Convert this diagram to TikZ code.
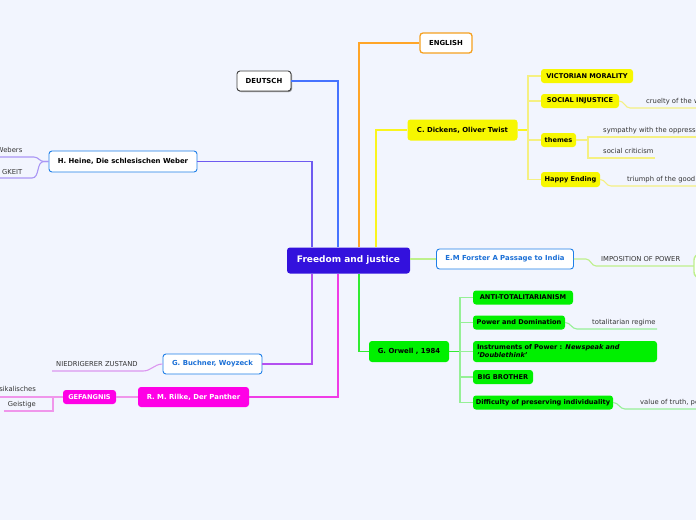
\documentclass[tikz,border=0pt]{standalone}
\usepackage{fontspec}
\setmainfont{DejaVu Sans}
\usetikzlibrary{shadows,calc}
\definecolor{bg}{RGB}{242,245,254}
\definecolor{cmain}{RGB}{51,17,221}
\definecolor{cyel}{RGB}{247,247,0}
\definecolor{cgreen}{RGB}{0,240,0}
\definecolor{cmag}{RGB}{255,0,230}
\definecolor{cblueb}{RGB}{30,127,232}
\definecolor{cbluet}{RGB}{26,111,214}
\definecolor{corange}{RGB}{245,160,32}
\definecolor{leaftext}{RGB}{51,51,51}
\definecolor{lheine}{RGB}{110,90,240}
\definecolor{lheinel}{RGB}{170,150,245}
\definecolor{ldeutsch}{RGB}{70,115,255}
\definecolor{lenglish}{RGB}{255,165,40}
\definecolor{ldickens}{RGB}{250,245,30}
\definecolor{ldickensl}{RGB}{245,240,130}
\definecolor{lforster}{RGB}{190,240,140}
\definecolor{lorwell}{RGB}{50,235,50}
\definecolor{lorwelll}{RGB}{150,240,150}
\definecolor{lbuchner}{RGB}{180,80,240}
\definecolor{lbuchnerl}{RGB}{220,150,240}
\definecolor{lrilke}{RGB}{240,60,230}
\definecolor{lrilkel}{RGB}{240,150,235}
\begin{document}
\begin{tikzpicture}[x=1pt,y=-1pt,
  base/.style={rectangle,rounded corners=3pt,inner sep=0pt,align=center,font=\fontsize{6.9}{8.4}\selectfont\bfseries},
  subfont/.style={font=\fontsize{6.6}{8}\selectfont\bfseries},
  mainbox/.style={base,fill=cmain,text=white,font=\fontsize{9}{11}\selectfont\bfseries},
  whitebox/.style={base,fill=white,draw=cblueb,line width=0.9pt,text=black},
  bluebox/.style={base,fill=white,draw=cblueb,line width=0.9pt,text=cbluet},
  yelbox/.style={base,fill=cyel,text=black},
  grnbox/.style={base,fill=cgreen,text=black},
  magbox/.style={base,fill=cmag,text=white},
  leaf/.style={inner sep=0pt,anchor=base west,text=leaftext,font=\fontsize{6.8}{8}\selectfont},
  leafr/.style={leaf,anchor=base east},
  conn/.style={line width=1.6pt},
  sub/.style={line width=1.1pt}
]
\useasboundingbox (0,0) rectangle (696,520);
\clip (0,0) rectangle (696,520);
\fill[bg] (0,0) rectangle (696,520);

% main nodes
\node[mainbox,minimum width=123pt,minimum height=26pt] (center) at (348.5,260.5) {Freedom and justice};
\node[base,fill=white,draw=black!75,line width=0.9pt,drop shadow={shadow xshift=1pt,shadow yshift=-1pt,fill=black!55,opacity=0.8},minimum width=54pt,minimum height=20pt] (deutsch) at (264,81) {DEUTSCH};
\node[base,fill=white,draw=corange,line width=1.3pt,minimum width=52pt,minimum height=20pt] (english) at (446,43) {ENGLISH};
\node[whitebox,minimum width=148pt,minimum height=21pt] (heine) at (123,161.5) {H. Heine, Die schlesischen Weber};
\node[yelbox,minimum width=110pt,minimum height=21pt] (dickens) at (462.5,130) {C. Dickens, Oliver Twist};
\node[bluebox,minimum width=137pt,minimum height=20pt] (forster) at (505,259) {E.M Forster A Passage to India};
\node[grnbox,minimum width=80pt,minimum height=21pt] (orwell) at (409,351.5) {G. Orwell , 1984};
\node[bluebox,minimum width=99pt,minimum height=20pt] (buchner) at (212.5,364) {G. Buchner, Woyzeck};
\node[magbox,minimum width=111pt,minimum height=20pt] (rilke) at (193.5,397) {R. M. Rilke, Der Panther};

% Dickens children
\node[yelbox,subfont,minimum width=92pt,minimum height=14pt] (victorian) at (587,76) {VICTORIAN MORALITY};
\node[yelbox,subfont,minimum width=78pt,minimum height=14pt] (social) at (580,101) {SOCIAL INJUSTICE};
\node[yelbox,subfont,minimum width=35pt,minimum height=14pt] (themes) at (558.5,140) {themes};
\node[yelbox,subfont,minimum width=59pt,minimum height=15pt] (happy) at (570.5,179.5) {Happy Ending};

% Orwell children
\node[grnbox,subfont,minimum width=100pt,minimum height=14pt] (anti) at (523,297.5) {ANTI-TOTALITARIANISM};
\node[grnbox,subfont,minimum width=92pt,minimum height=14pt] (power) at (519,322.5) {Power and Domination};
\node[grnbox,subfont,minimum width=184pt,minimum height=21pt,align=left,text width=176pt] (instr) at (565,351.5) {Instruments of Power : \textit{Newspeak and}\\\textit{'Doublethink'}};
\node[grnbox,subfont,minimum width=60pt,minimum height=14pt] (big) at (503,377) {BIG BROTHER};
\node[grnbox,subfont,minimum width=140pt,minimum height=14pt] (diff) at (543,402.5) {Difficulty of preserving individuality};

% Rilke child
\node[magbox,subfont,minimum width=53pt,minimum height=14pt] (gef) at (89.5,397) {GEFANGNIS};

% helper coordinates
\coordinate (xa) at (312,0);
\coordinate (xb) at (338,0);
\coordinate (xc) at (359,0);
\coordinate (xd) at (376,0);
\coordinate (dk) at (528,0);
\coordinate (ow) at (460,0);
\coordinate (redge) at (705,0);
\coordinate (ledge) at (-5,0);

% main connectors
\draw[conn,lheine] (center.north -| xa) |- (heine.east);
\draw[conn,ldeutsch] (center.north -| xb) |- (deutsch.east);
\draw[conn,lenglish] (center.north -| xc) |- (english.west);
\draw[conn,ldickens] (center.north -| xd) |- (dickens.west);
\draw[conn,lforster] (forster.west -| center.east) -- (forster.west);
\draw[conn,lbuchner] (center.south -| xa) |- (buchner.east);
\draw[conn,lrilke] (center.south -| xb) |- (rilke.east);
\draw[conn,lorwell] (center.south -| xc) |- (orwell.west);

% Dickens tree
\draw[conn,ldickens] (dickens.east) -- (dickens.east -| dk);
\foreach \n in {victorian,social,themes,happy}
  \draw[sub,ldickensl] (dickens.east -| dk) |- (\n.west);

% Orwell tree
\draw[conn,lorwell] (orwell.east) -- (orwell.east -| ow);
\foreach \n in {anti,power,instr,big,diff}
  \draw[sub,lorwelll] (orwell.east -| ow) |- (\n.west);

% Dickens leaves
\coordinate (ucr) at (630,108);
\node[leaf] (cruelty) at (646,103.5) {cruelty of the w};
\draw[sub,ldickensl] (social.east) to[out=0,in=180] (ucr) -- (ucr -| redge);
\coordinate (usym) at (588,137);
\coordinate (usoc) at (588,158);
\coordinate (usocend) at (655,158);
\node[leaf] (sympathy) at (603,132.5) {sympathy with the oppresse};
\node[leaf] (socialcrit) at (603,153.5) {social criticism};
\draw[sub,ldickensl] (themes.east) -- (themes.east -| usym);
\draw[sub,ldickensl] (themes.east -| usym) -- (usym) -- (usym -| redge);
\draw[sub,ldickensl] (themes.east -| usym) -- (usoc) -- (usocend);
\coordinate (utri) at (611,186);
\node[leaf] (triumph) at (627,181.5) {triumph of the good};
\draw[sub,ldickensl] (happy.east) to[out=0,in=180] (utri) -- (utri -| redge);

% Forster leaf
\coordinate (uimp0) at (586,259);
\coordinate (uimp) at (596,266);
\node[leaf] (imposition) at (601,261) {IMPOSITION OF POWER};
\draw[sub,lforster] (forster.east) -- (uimp0) to[out=0,in=180] (uimp) -- (uimp -| redge);
\draw[line width=1.4pt,lforster,fill=white,rounded corners=6pt] (694,254) rectangle (760,278);

% Orwell leaves
\coordinate (utot) at (577,329);
\coordinate (utotend) at (657,329);
\node[leaf] (totalitarian) at (592,324.5) {totalitarian regime};
\draw[sub,lorwelll] (power.east) to[out=0,in=180] (utot) -- (utotend);
\coordinate (uval) at (625,409);
\node[leaf] (value) at (640,404.5) {value of truth, pe};
\draw[sub,lorwelll] (diff.east) to[out=0,in=180] (uval) -- (uval -| redge);

% Heine leaves
\coordinate (hj) at (44,161.5);
\coordinate (uweb) at (34,157);
\coordinate (ugk) at (32,178);
\node[leafr] (webers) at (22.5,152.5) {Webers};
\node[leafr] (gkeit) at (22.5,174) {GKEIT};
\draw[sub,lheinel] (heine.west) -- (hj) to[out=180,in=0] (uweb) -- (uweb -| ledge);
\draw[sub,lheinel] (heine.west) -- (hj) to[out=180,in=0] (ugk) -- (ugk -| ledge);

% Buchner leaf
\coordinate (ubu) at (143,371);
\coordinate (ubu0) at (52,371);
\node[leaf] (niedrig) at (56,366.5) {NIEDRIGERER ZUSTAND};
\draw[sub,lbuchnerl] (buchner.west) to[out=180,in=0] (ubu) -- (ubu0);

% Rilke tree
\draw[sub,lrilkel] (rilke.west) -- (gef.east);
\node[leafr] (sikal) at (36,391.5) {sikalisches};
\node[leafr] (geist) at (36,406.5) {Geistige};
\coordinate (g1) at (53,411);
\coordinate (g2) at (4,411);
\draw[sub,lrilkel] (gef.west) -- (gef.west -| ledge);
\draw[sub,lrilkel] (gef.west -| g1) -- (g1) -- (g2);
\end{tikzpicture}
\end{document}
